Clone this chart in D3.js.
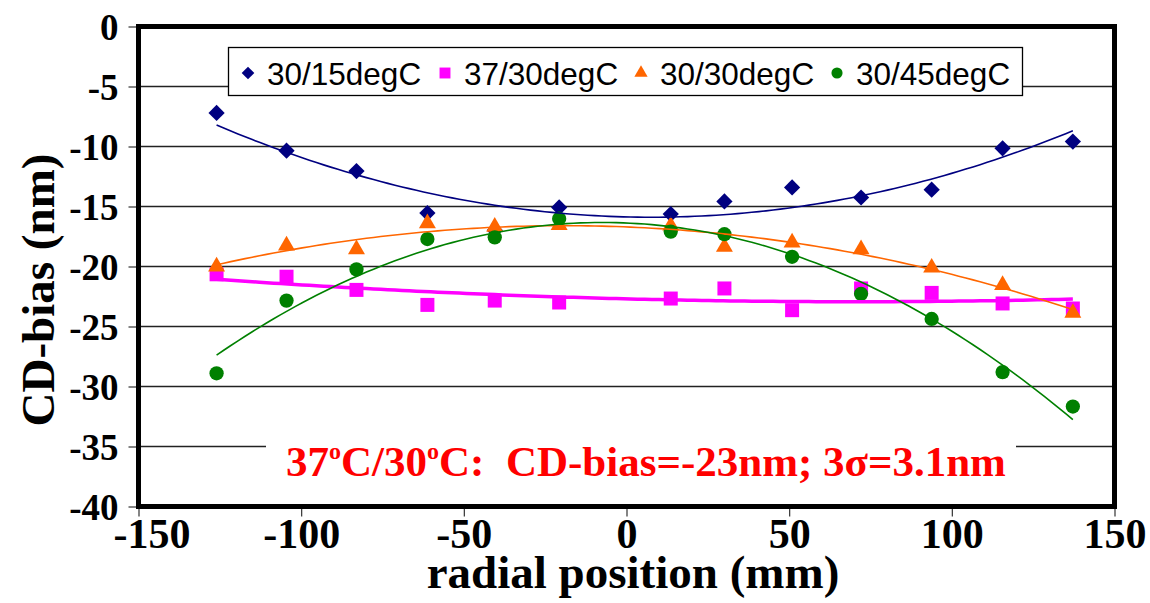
<!DOCTYPE html>
<html>
<head>
<meta charset="utf-8">
<script src="https://cdn.jsdelivr.net/npm/d3@7"></script>
<style>
  html, body { margin: 0; padding: 0; background: #fff; }
  svg { display: block; }
</style>
</head>
<body>
<svg id="chart" width="1150" height="603"></svg>
<script>
// Radial positions (mm) shared by all four runs
const positions = [-126, -104.5, -83, -61.2, -40.5, -20.7, 13.6, 30.1, 50.9, 72.1, 93.8, 115.6, 137.2];

// CD-bias (nm) per temperature condition
const bias3015 = [-7.2, -10.35, -12.05, -15.55, -16.97, -15.08, -15.63, -14.58, -13.41, -14.25, -13.6, -10.15, -9.59];
const bias3730 = [-20.65, -20.85, -21.95, -23.2, -22.84, -23.0, -22.67, -21.83, -23.64, -21.83, -22.2, -23.08, -23.5];
const bias3030 = [-20.0, -18.25, -18.57, -16.41, -16.69, -16.55, -16.6, -18.37, -18.01, -18.57, -20.1, -21.55, -23.87];
const bias3045 = [-28.9, -22.84, -20.24, -17.71, -17.57, -16.02, -17.09, -17.31, -19.19, -22.28, -24.37, -28.8, -31.67];

const seriesNames = ["30/15degC", "37/30degC", "30/30degC", "30/45degC"];
const seriesColors = ["#000080", "#FF00FF", "#FF6600", "#008000"];

const xTicks = [-150, -100, -50, 0, 50, 100, 150];
const yTicks = [0, -5, -10, -15, -20, -25, -30, -35, -40];

const series = [
  { name: seriesNames[0], values: bias3015, color: seriesColors[0], symbol: "diamond", lineWidth: 1.6 },
  { name: seriesNames[1], values: bias3730, color: seriesColors[1], symbol: "square", lineWidth: 3.5 },
  { name: seriesNames[2], values: bias3030, color: seriesColors[2], symbol: "triangle", lineWidth: 1.6 },
  { name: seriesNames[3], values: bias3045, color: seriesColors[3], symbol: "circle", lineWidth: 1.6 }
];

const svg = d3.select("#chart");

const x = d3.scaleLinear().domain([-150, 150]).range([138.5, 1114.5]);
const y = d3.scaleLinear().domain([-40, 0]).range([506.5, 26.5]);

// Plain hyphen-minus for negative tick values
const fmt = d => String(d);

// Least-squares quadratic trend line
function quadFit(xs, ys) {
  let s0 = 0, s1 = 0, s2 = 0, s3 = 0, s4 = 0, t0 = 0, t1 = 0, t2 = 0;
  xs.forEach((xv, i) => {
    const yv = ys[i];
    s0 += 1; s1 += xv; s2 += xv * xv; s3 += xv ** 3; s4 += xv ** 4;
    t0 += yv; t1 += xv * yv; t2 += xv * xv * yv;
  });
  const A = [[s0, s1, s2, t0], [s1, s2, s3, t1], [s2, s3, s4, t2]];
  for (let c = 0; c < 3; c++) {
    for (let r = c + 1; r < 3; r++) {
      const f = A[r][c] / A[c][c];
      for (let k = c; k < 4; k++) A[r][k] -= f * A[c][k];
    }
  }
  const coef = [0, 0, 0];
  for (let r = 2; r >= 0; r--) {
    let s = A[r][3];
    for (let k = r + 1; k < 3; k++) s -= A[r][k] * coef[k];
    coef[r] = s / A[r][r];
  }
  return xv => coef[0] + coef[1] * xv + coef[2] * xv * xv;
}

// Gridlines
svg.append("g")
  .selectAll("line")
  .data(yTicks.filter(t => t !== 0 && t !== -40))
  .join("line")
  .attr("x1", x(-150)).attr("x2", x(150))
  .attr("y1", d => y(d)).attr("y2", d => y(d))
  .attr("stroke", "#222").attr("stroke-width", 1.3);

// Y axis
const yAxis = svg.append("g")
  .attr("transform", `translate(${x(-150)},0)`)
  .call(d3.axisLeft(y).tickValues(yTicks).tickSize(10).tickPadding(10).tickFormat(fmt));
yAxis.select(".domain").remove();
yAxis.selectAll(".tick line").attr("stroke", "#333").attr("stroke-width", 1.2);
yAxis.selectAll(".tick text")
  .attr("font-family", "'Liberation Serif', 'Times New Roman', serif")
  .attr("font-weight", "bold").attr("font-size", 37).attr("fill", "#000")
  .attr("dy", "0.34em");

// X axis
const xAxis = svg.append("g")
  .attr("transform", `translate(0,${y(-40)})`)
  .call(d3.axisBottom(x).tickValues(xTicks).tickSize(10).tickPadding(3).tickFormat(fmt));
xAxis.select(".domain").remove();
xAxis.selectAll(".tick line").attr("stroke", "#333").attr("stroke-width", 1.2);
xAxis.selectAll(".tick text")
  .attr("font-family", "'Liberation Serif', 'Times New Roman', serif")
  .attr("font-weight", "bold").attr("font-size", 42).attr("fill", "#000")
  .attr("dy", "0.68em")
  .attr("dx", d => d === -150 ? 13 : 0);

// Axis titles
svg.append("text")
  .attr("transform", `translate(54,290) rotate(-90)`)
  .attr("text-anchor", "middle")
  .attr("font-family", "'Liberation Serif', 'Times New Roman', serif")
  .attr("font-weight", "bold").attr("font-size", 47)
  .text("CD-bias (nm)");

svg.append("text")
  .attr("x", 633).attr("y", 588)
  .attr("text-anchor", "middle")
  .attr("font-family", "'Liberation Serif', 'Times New Roman', serif")
  .attr("font-weight", "bold").attr("font-size", 47)
  .text("radial position (mm)");

// Marker shapes
function markerPath(kind, scale) {
  const s = scale || 1;
  if (kind === "diamond") return d3.symbol(d3.symbolSquare, 132 * s * s)();
  if (kind === "square") return d3.symbol(d3.symbolSquare, 196 * s * s)();
  if (kind === "triangle") return d3.symbol(d3.symbolTriangle, 125 * s * s)();
  return d3.symbol(d3.symbolCircle, 160 * s * s)();
}

// Data markers
series.forEach(sr => {
  svg.append("g")
    .selectAll("path")
    .data(sr.values.map((v, i) => [positions[i], v]))
    .join("path")
    .attr("d", markerPath(sr.symbol))
    .attr("transform", d => `translate(${x(d[0])},${y(d[1])})` + (sr.symbol === "diamond" ? " rotate(45)" : ""))
    .attr("fill", sr.color);
});

// Trend lines
const xMin = d3.min(positions), xMax = d3.max(positions);
const samples = d3.range(0, 121).map(i => xMin + (xMax - xMin) * i / 120);
const line = d3.line().x(d => x(d[0])).y(d => y(d[1]));
series.forEach(sr => {
  const f = quadFit(positions, sr.values);
  svg.append("path")
    .datum(samples.map(xv => [xv, f(xv)]))
    .attr("d", line)
    .attr("fill", "none")
    .attr("stroke", sr.color)
    .attr("stroke-width", sr.lineWidth);
});

// Plot frame
svg.append("rect")
  .attr("x", x(-150)).attr("y", y(0))
  .attr("width", x(150) - x(-150)).attr("height", y(-40) - y(0))
  .attr("fill", "none").attr("stroke", "#000").attr("stroke-width", 5);

// Legend
const legend = svg.append("g");
legend.append("rect")
  .attr("x", 228.5).attr("y", 47.5).attr("width", 794).attr("height", 48)
  .attr("fill", "#fff").attr("stroke", "#000").attr("stroke-width", 1.3);
const legendX = [248, 445, 641, 837];
series.forEach((sr, i) => {
  legend.append("path")
    .attr("d", markerPath(sr.symbol, sr.symbol === "diamond" ? 0.78 : 0.78))
    .attr("transform", `translate(${legendX[i]},73)` + (sr.symbol === "diamond" ? " rotate(45)" : ""))
    .attr("fill", sr.color);
  legend.append("text")
    .attr("x", legendX[i] + 19).attr("y", 85)
    .attr("font-family", "'Liberation Sans', Arial, sans-serif")
    .attr("font-size", 31.5)
    .text(sr.name);
});

// Summary annotation for the 37/30 condition
svg.append("rect")
  .attr("x", 266).attr("y", 432).attr("width", 750).attr("height", 56)
  .attr("fill", "#fff");
const note = svg.append("text")
  .attr("x", 646).attr("y", 476)
  .attr("text-anchor", "middle")
  .attr("font-family", "'Liberation Serif', 'Times New Roman', serif")
  .attr("font-weight", "bold").attr("font-size", 43)
  .attr("fill", "#FF0000");
note.append("tspan").text("37");
note.append("tspan").attr("font-size", 24).attr("dy", -17).text("o");
note.append("tspan").attr("dy", 17).text("C/30");
note.append("tspan").attr("font-size", 24).attr("dy", -17).text("o");
note.append("tspan").attr("dy", 17).text("C:\u00A0\u00A0CD-bias=-23nm; 3\u03C3=3.1nm");
</script>
</body>
</html>
